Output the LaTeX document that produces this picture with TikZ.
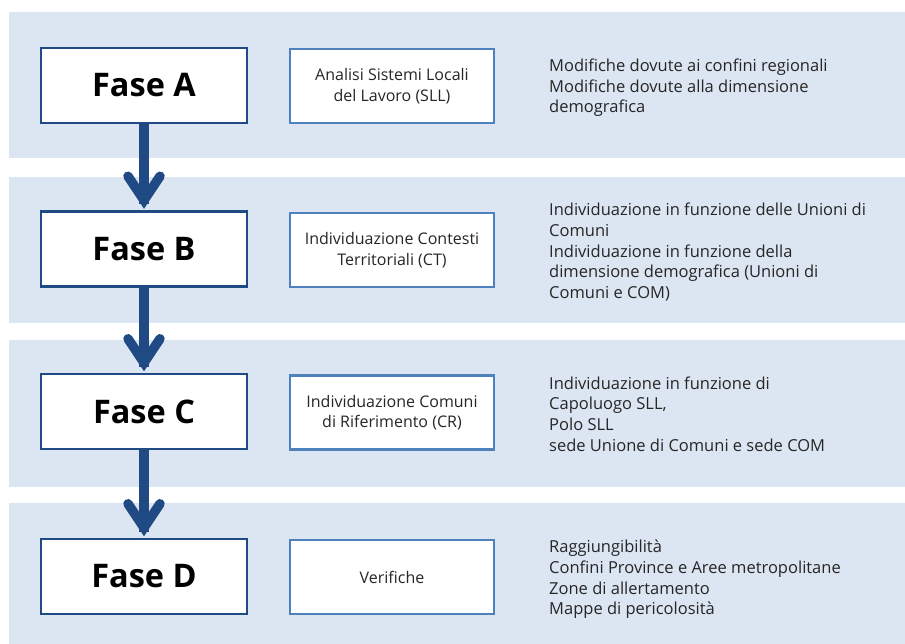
\documentclass[tikz,border=0pt]{standalone}
\usepackage{fontspec}
\setmainfont{Open Sans}
\usetikzlibrary{calc}
\definecolor{bandbg}{HTML}{DCE6F2}
\definecolor{navy}{HTML}{1F4A84}
\definecolor{midblue}{HTML}{4F81BD}
\definecolor{txt}{HTML}{262626}
\begin{document}
\begin{tikzpicture}[x=1pt,y=-1pt,
  band/.style={fill=bandbg},
  fase/.style={draw=navy, line width=2.5pt, fill=white, minimum width=206pt, minimum height=75pt,
    inner sep=0pt, font=\fontsize{32.5}{38}\selectfont\bfseries, text=black},
  midbox/.style={draw=midblue, line width=2.3pt, fill=white, minimum width=204pt, minimum height=74pt,
    inner sep=0pt, align=center, font=\fontsize{16}{20.5}\selectfont, text=txt},
  note/.style={anchor=west, align=left, inner sep=0pt, font=\fontsize{16.5}{20.6}\selectfont, text=txt},
  shaft/.style={draw=navy, line width=9.5pt},
  chev/.style={draw=navy, line width=9.5pt, line cap=round, line join=miter}
]
\useasboundingbox (0,0) rectangle (905,644);
\fill[band] (9,12) rectangle (905,158);
\fill[band] (9,177) rectangle (905,323);
\fill[band] (9,340) rectangle (905,487);
\fill[band] (9,503) rectangle (905,644);

\node[fase] (fa) at (144,85.5) {Fase A};
\node[fase] (fb) at (144,249) {Fase B};
\node[fase] (fc) at (144,411.5) {Fase C};
\node[fase] (fd) at (144,576.5) {Fase D};

\node[midbox] (ma) at (392,86) {Analisi Sistemi Locali\\del Lavoro (SLL)};
\node[midbox] (mb) at (392,250) {Individuazione Contesti\\Territoriali (CT)};
\node[midbox] (mc) at (392,412.5) {Individuazione Comuni\\di Riferimento (CR)};
\node[midbox] (md) at (392,577) {Verifiche};

\node[note] (na) at (549,88) {Modifiche dovute ai confini regionali\\Modifiche dovute alla dimensione\\demografica};
\node[note] (nb) at (549,252) {Individuazione in funzione delle Unioni di\\Comuni\\Individuazione in funzione della\\dimensione demografica (Unioni di\\Comuni e COM)};
\node[note] (nc) at (549,414) {Individuazione in funzione di\\Capoluogo SLL,\\Polo SLL\\sede Unione di Comuni e sede COM};
\node[note] (nd) at (549,579.5) {Raggiungibilità\\Confini Province e Aree metropolitane\\Zone di allertamento\\Mappe di pericolosità};

\foreach \s/\t in {fa/fb, fb/fc, fc/fd}{
  \draw[shaft] (\s.south) -- ($(\t.north)+(0,-6)$);
  \draw[chev] ($(\t.north)+(-16,-34)$) -- ($(\t.north)+(0,-10)$) -- ($(\t.north)+(16,-34)$);
}
\end{tikzpicture}
\end{document}
